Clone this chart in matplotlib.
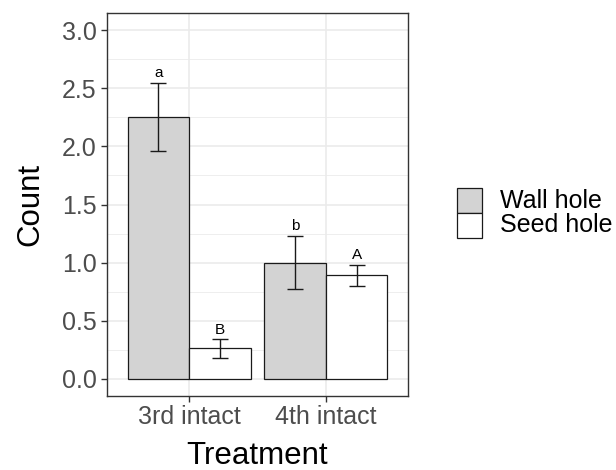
import matplotlib
matplotlib.use("Agg")
import matplotlib.pyplot as plt
import numpy as np
from matplotlib.patches import Rectangle

# data
treatments = ["3rd intact", "4th intact"]
groups = ["Wall hole", "Seed hole"]
means = {"Wall hole": [2.25, 1.00], "Seed hole": [0.26, 0.89]}
lower = {"Wall hole": [1.96, 0.77], "Seed hole": [0.18, 0.80]}
upper = {"Wall hole": [2.55, 1.23], "Seed hole": [0.34, 0.98]}
letters = {"Wall hole": ["a", "b"], "Seed hole": ["B", "A"]}
fills = {"Wall hole": "#D3D3D3", "Seed hole": "#FFFFFF"}
yticks = [0.0, 0.5, 1.0, 1.5, 2.0, 2.5, 3.0]

plt.rcParams["font.family"] = ["Liberation Sans", "DejaVu Sans"]

W, H = 616, 470
fig = plt.figure(figsize=(W / 100, H / 100), dpi=100)
ax = fig.add_axes([107 / W, 1 - 396 / H, (408 - 107) / W, (396 - 13) / H])

x = np.arange(1, len(treatments) + 1)
width = 0.45
offsets = {"Wall hole": -width / 2, "Seed hole": width / 2}

for g in groups:
    xs = x + offsets[g]
    m = np.array(means[g])
    lo = m - np.array(lower[g])
    hi = np.array(upper[g]) - m
    ax.bar(xs, m, width=width, color=fills[g], edgecolor="#1a1a1a",
           linewidth=0.9, zorder=3)
    ax.errorbar(xs, m, yerr=[lo, hi], fmt="none", ecolor="#1a1a1a",
                elinewidth=1.0, capsize=6, capthick=1.0, zorder=4)
    for xi, up, lab in zip(xs, upper[g], letters[g]):
        ax.annotate(lab, (xi, up), xytext=(0, 4), textcoords="offset points",
                    ha="center", va="baseline", fontsize=11, zorder=5)

ax.set_xlim(0.4, 2.6)
ax.set_ylim(-0.15, 3.15)
ax.set_xticks(x)
ax.set_xticklabels(treatments)
ax.set_yticks(yticks)
ax.set_yticklabels([f"{v:.1f}" for v in yticks])
ax.set_yticks(np.arange(0.25, 3.0, 0.5), minor=True)

ax.grid(True, which="major", color="#EBEBEB", linewidth=1.2, zorder=0)
ax.grid(True, which="minor", axis="y", color="#EBEBEB", linewidth=0.6, zorder=0)
ax.set_axisbelow(True)
ax.tick_params(axis="both", which="major", length=4.5, width=1.0,
               color="#333333", labelcolor="#4D4D4D", labelsize=18)
ax.tick_params(axis="x", pad=2)
ax.tick_params(axis="y", pad=3)
ax.tick_params(which="minor", length=0)
for s in ax.spines.values():
    s.set_color("#333333")
    s.set_linewidth(1.0)

fig.text((107 + 408) / 2 / W, 1 - 464 / H, "Treatment", ha="center",
         va="baseline", fontsize=22.5)
fig.text(30 / W, 1 - 204 / H, "Count", ha="center", va="center",
         rotation=90, fontsize=22.5)

# legend keys drawn as stacked boxes like ggplot
key_top = 188
for i, g in enumerate(groups):
    y0 = key_top + 25 * i
    fig.patches.append(Rectangle((457 / W, 1 - (y0 + 25) / H), 25 / W, 25 / H,
                                 transform=fig.transFigure, facecolor=fills[g],
                                 edgecolor="#1a1a1a", linewidth=0.9))
    fig.text(500 / W, 1 - (y0 + 12.5) / H, g, ha="left", va="center",
             fontsize=18)

fig.savefig("out.png", dpi=100)
